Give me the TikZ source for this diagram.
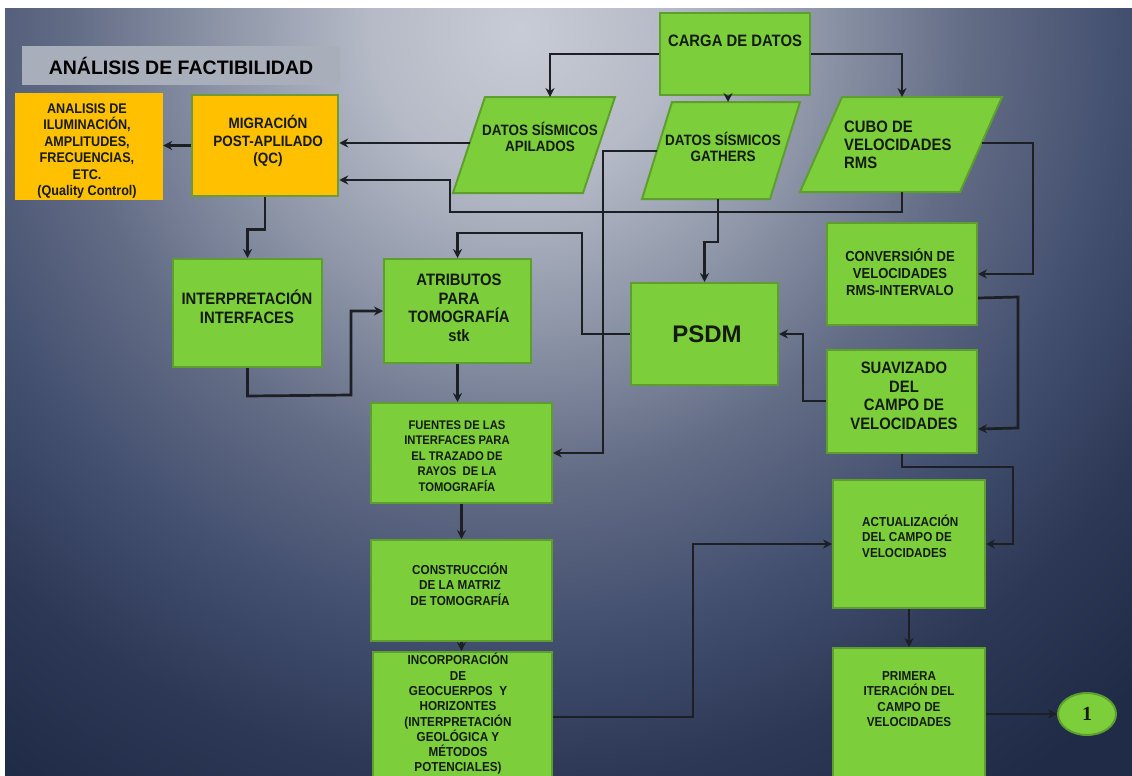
\documentclass[tikz,border=0pt]{standalone}
\usepackage{fontspec}
\setmainfont{Liberation Sans}[FakeStretch=0.9]
\newfontfamily\widesans{Liberation Sans}
\newfontfamily\numfont{Liberation Serif}
\usetikzlibrary{arrows.meta,calc,shapes.geometric}

\definecolor{bgA}{HTML}{C8CCD6}
\definecolor{bgB}{HTML}{B5BAC6}
\definecolor{bgC}{HTML}{8D95A7}
\definecolor{bgD}{HTML}{626C85}
\definecolor{bgE}{HTML}{445070}
\definecolor{bgF}{HTML}{2C3855}
\definecolor{bgG}{HTML}{1F2B47}
\definecolor{gfill}{HTML}{7CCF3A}
\definecolor{gline}{HTML}{5E9E2E}
\definecolor{ofill}{HTML}{FFC000}
\definecolor{oline}{HTML}{6F9A35}
\definecolor{hdrfill}{HTML}{A9AEBB}
\definecolor{ink}{HTML}{151A12}
\definecolor{wirecol}{HTML}{1C1F24}

% radial glow: the path's bounding box spans the central 50bp square
\pgfdeclareradialshading{backglow}{\pgfpoint{0bp}{0bp}}{%
  color(0bp)=(bgA); color(4.17bp)=(bgB); color(8.33bp)=(bgC);
  color(12.5bp)=(bgD); color(16.67bp)=(bgE); color(20.83bp)=(bgF);
  color(25bp)=(bgG); color(50bp)=(bgG)}

\begin{document}
\begin{tikzpicture}[x=1pt,y=-1pt,
  gbox/.style={draw=gline, line width=2pt, fill=gfill, inner sep=0pt},
  gpoly/.style={draw=gline, line width=2pt, fill=gfill, line join=miter},
  txt/.style={align=center, text=ink, inner sep=0pt},
  fs/.style 2 args={font=\bfseries\fontsize{#1}{#2}\selectfont},
  conn/.style={draw=wirecol, line width=2.7pt, -{Stealth[length=9pt,width=9pt]}}]

\useasboundingbox (0,0) rectangle (1132,776);
\fill[white] (0,0) rectangle (1132,776);

% backdrop and every shape are clipped to the page area
\begin{scope}
\clip (5,9) rectangle (1132,776);
\shade[shading=backglow] (-380,-870) rectangle (1420,930);

% title strip
\node[fill=hdrfill, minimum width=318pt, minimum height=39pt, inner sep=0pt,
      text=black, font=\widesans\bfseries\fontsize{19.5}{22}\selectfont]
      (hdr) at (181,65.5) {ANÁLISIS DE FACTIBILIDAD};

% rectangular process boxes
\node[fill=ofill, inner sep=0pt, minimum width=148pt, minimum height=107pt] (anal) at (89,146.5) {};
\node[fill=ofill, draw=oline, line width=2.5pt, inner sep=0pt, minimum width=146pt, minimum height=101pt] (migr) at (265,145.5) {};
\node[gbox, minimum width=150pt, minimum height=82pt] (carga) at (735,54) {};
\node[gbox, minimum width=149pt, minimum height=108pt] (interp) at (247.5,313) {};
\node[gbox, minimum width=147pt, minimum height=104pt] (atrib) at (457.5,311) {};
\node[gbox, minimum width=147pt, minimum height=102pt] (psdm) at (704.5,334) {};
\node[gbox, minimum width=150pt, minimum height=102pt] (conv) at (902,274) {};
\node[gbox, minimum width=150pt, minimum height=103pt] (suav) at (902,401.5) {};
\node[gbox, minimum width=181pt, minimum height=100pt] (fuent) at (461.5,453) {};
\node[gbox, minimum width=181pt, minimum height=101pt] (constr) at (461.5,590.5) {};
\node[gbox, minimum width=179pt, minimum height=148pt] (incorp) at (462.5,726) {};
\node[gbox, minimum width=152pt, minimum height=128pt] (actual) at (909,544) {};
\node[gbox, minimum width=152pt, minimum height=152pt] (prim) at (909,724) {};
\node[ellipse, draw=gline, fill=gfill, line width=2pt, inner sep=0pt,
      minimum width=58pt, minimum height=42pt, text=ink,
      font=\numfont\bfseries\fontsize{20}{21}\selectfont] (one) at (1087,714) {1};

% data parallelograms
\draw[gpoly] (485,97) -- (615,97) -- (583,193) -- (453,193) -- cycle;
\draw[gpoly] (672,102) -- (800,102) -- (770,199) -- (642,199) -- cycle;
\draw[gpoly] (842,97) -- (1002,97) -- (960,192) -- (800,192) -- cycle;
\coordinate (apilN) at (550,97);
\coordinate (apilW) at (470,143);
\coordinate (gathN) at (728,102);
\coordinate (gathS) at (718,199);
\coordinate (gathW) at (657,151);
\coordinate (cuboN) at (902,97);
\coordinate (cuboS) at (902,192);
\coordinate (cuboE) at (982,143);

% box captions
\node[txt, fs={14}{16.5}] (anal-t) at (87,151) {ANALISIS DE\\ILUMINACIÓN,\\AMPLITUDES,\\FRECUENCIAS,\\ETC.\\(Quality Control)};
\node[txt, fs={15}{17.5}] (migr-t) at (268,141) {MIGRACIÓN\\POST-APLILADO\\(QC)};
\node[txt, fs={16.5}{18.5}] (carga-t) at (735,41) {CARGA DE DATOS};
\node[txt, fs={15}{16.7}] (apil-t) at (540,137) {DATOS SÍSMICOS\\APILADOS};
\node[txt, fs={15}{16.7}] (gath-t) at (723,147) {DATOS SÍSMICOS\\GATHERS};
\node[txt, fs={16.5}{18.3}, align=left, anchor=west] (cubo-t) at (844,145) {CUBO DE\\VELOCIDADES\\RMS};
\node[txt, fs={16.5}{18.5}] (interp-t) at (247,307) {INTERPRETACIÓN\\INTERFACES};
\node[txt, fs={16.5}{18.5}] (atrib-t) at (459,308) {ATRIBUTOS\\PARA\\TOMOGRAFÍA\\stk};
\node[txt, font=\widesans\bfseries\fontsize{24}{26}\selectfont] (psdm-t) at (707,334) {PSDM};
\node[txt, fs={14.5}{16.7}] (conv-t) at (900,272) {CONVERSIÓN DE\\VELOCIDADES\\RMS-INTERVALO};
\node[txt, fs={16.5}{18.5}] (suav-t) at (904,396) {SUAVIZADO\\DEL\\CAMPO DE\\VELOCIDADES};
\node[txt, fs={12.5}{15.6}] (fuent-t) at (457,456) {FUENTES DE LAS\\INTERFACES PARA\\EL TRAZADO DE\\RAYOS\ \ DE LA\\TOMOGRAFÍA};
\node[txt, fs={13}{15.7}] (constr-t) at (460,584) {CONSTRUCCIÓN\\DE LA MATRIZ\\DE TOMOGRAFÍA};
\node[txt, fs={13}{15.3}] (incorp-t) at (458,714) {INCORPORACIÓN\\DE\\GEOCUERPOS\ \ Y\\HORIZONTES\\(INTERPRETACIÓN\\GEOLÓGICA Y\\MÉTODOS\\POTENCIALES)};
\node[txt, fs={13}{15.5}, align=left, anchor=west] (actual-t) at (862,536) {ACTUALIZACIÓN\\DEL CAMPO DE\\VELOCIDADES};
\node[txt, fs={13}{15.5}] (prim-t) at (909,699) {PRIMERA\\ITERACIÓN DEL\\CAMPO DE\\VELOCIDADES};

% connectors
\draw[conn] (carga.west) -| (apilN);
\draw[conn] (carga.east) -| (cuboN);
\draw[conn] (carga.south -| gathN) -- (gathN);
\draw[conn] (apilW) -- (apilW -| migr.east);
\draw[conn] (cuboS) -- (902,212) -- (450,212) -- (450,180) -- (migr.east |- 450,180);
\draw[conn] (migr.west) -- (anal.east |- migr.west);
\draw[conn] (migr.south) -- ++(0,32) -| (interp.north);
\draw[conn] (interp.south) -- ++(0,28) -- (351,395) |- (atrib.west);
\draw[conn] (psdm.west) -| (582,233) -| (atrib.north);
\draw[conn] (gathS) -- (718,242) -| (psdm.north);
\draw[conn] (gathW) -| (603,453) -- (fuent.east);
\draw[conn] (cuboE) -| (1033,274) -- (conv.east);
\draw[conn] ($(conv.south east)+(0,-28)$) -- (1018,297) -- (1018,428) -- ($(suav.south east)+(0,-25)$);
\draw[conn] ($(suav.north west)+(0,52)$) -| (803,334) -- (psdm.east);
\draw[conn] (suav.south) -- (902,467) -| (1013,544) -- (actual.east);
\draw[conn] (atrib.south) -- (atrib.south |- fuent.north);
\draw[conn] (fuent.south) -- (fuent.south |- constr.north);
\draw[conn] (constr.south) -- (constr.south |- incorp.north);
\draw[conn] ($(incorp.north east)+(0,66)$) -| (693,544) -- (actual.west);
\draw[conn] (actual.south) -- (prim.north);
\draw[conn] (prim.east |- one.west) -- (one.west);
\end{scope}
\end{tikzpicture}
\end{document}
